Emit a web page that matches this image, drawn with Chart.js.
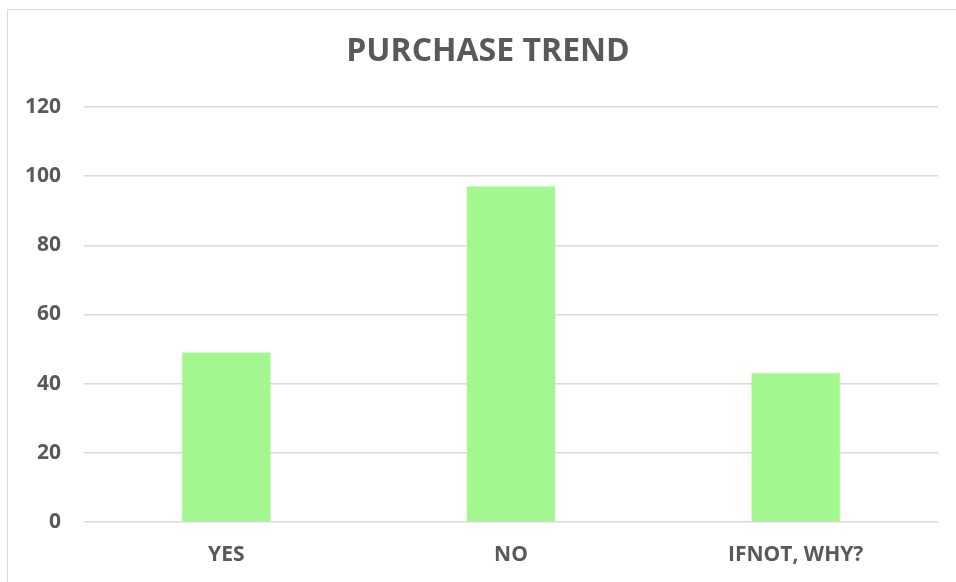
<!DOCTYPE html>
<html>
<head>
<meta charset="utf-8">
<script src="https://cdn.jsdelivr.net/npm/chart.js@4/dist/chart.umd.min.js"></script>
<style>
    html, body { margin: 0; padding: 0; background: #fff; }
    #wrap { position: relative; width: 956px; height: 582px; }
    #frame { position: absolute; left: 7px; top: 9px; width: 960px; height: 600px; border: 1px solid #d9d9d9; box-sizing: border-box; }
    canvas { position: absolute; left: 0; top: 0; }
</style>
</head>
<body>
<div id="wrap">
    <div id="frame"></div>
    <canvas id="chart" width="956" height="582"></canvas>
</div>
<script>
const categories = ['YES', 'NO', 'IFNOT, WHY?'];
const responses = [49, 97, 43];
const yTicks = [0, 20, 40, 60, 80, 100, 120];

const textGray = '#595959';
const gridGray = '#d9d9d9';

// title centred on the outer frame, not on the canvas
const centreTitle = {
    id: 'centreTitle',
    afterLayout(chart) {
        if (chart.titleBlock) { chart.titleBlock.left = 38; chart.titleBlock.right = 938; }
    }
};

new Chart(document.getElementById('chart'), {
    type: 'bar',
    data: {
        labels: categories,
        datasets: [{
            label: 'PURCHASE TREND',
            data: responses,
            backgroundColor: '#a2f78f',
            borderWidth: 0,
            categoryPercentage: 1,
            barPercentage: 0.31
        }]
    },
    options: {
        responsive: false,
        animation: false,
        layout: { padding: { left: 0, right: 18, top: 0, bottom: 0 } },
        plugins: {
            legend: { display: false },
            tooltip: { enabled: false },
            title: {
                display: true,
                text: 'PURCHASE TREND',
                color: textGray,
                font: { family: 'Open Sans', size: 32, weight: 'bold' },
                padding: { top: 33, bottom: 35.6 }
            }
        },
        scales: {
            x: {
                grid: { display: false, drawTicks: false },
                border: { display: false },
                ticks: {
                    color: textGray,
                    font: { family: 'Open Sans', size: 21, weight: 'bold' },
                    padding: 20
                },
                afterFit: s => { s.height = 60; }
            },
            y: {
                min: 0,
                max: 120,
                afterBuildTicks: s => { s.ticks = yTicks.map(v => ({ value: v })); },
                grid: { color: gridGray, lineWidth: 1.5, drawTicks: false },
                border: { display: false },
                ticks: {
                    color: textGray,
                    font: { family: 'Open Sans', size: 21, weight: 'bold' },
                    padding: 23
                },
                afterFit: s => { s.width = 84; }
            }
        }
    },
    plugins: [centreTitle]
});
</script>
</body>
</html>
